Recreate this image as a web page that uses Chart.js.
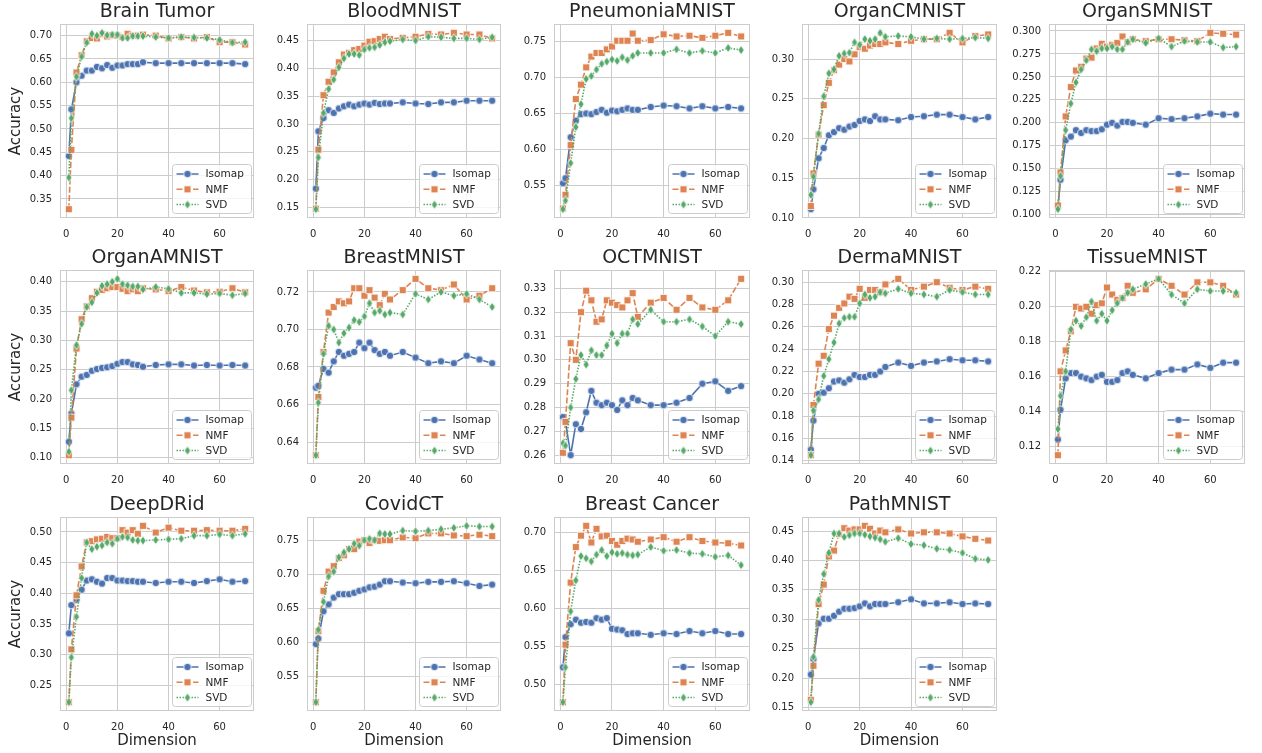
<!DOCTYPE html>
<html>
<head>
<meta charset="utf-8">
<script src="https://cdn.jsdelivr.net/npm/chart.js@4.4.0/dist/chart.umd.min.js"></script>
<style>
  body { margin: 0; background: #fff; }
  #wrap { position: relative; width: 1262px; height: 753px; overflow: hidden; background: #fff; }
  #wrap canvas { position: absolute; }
</style>
</head>
<body>
<div id="wrap"></div>
<script>
// dimensions tested (x values)
const dims = [1, 2, 4, 6, 8, 10, 12, 14, 16, 18, 20, 22, 24, 26, 28, 30, 35, 40, 45, 50, 55, 60, 65, 70];
const xTicks = [0, 20, 40, 60];

const titles = ['Brain Tumor', 'BloodMNIST', 'PneumoniaMNIST', 'OrganCMNIST', 'OrganSMNIST',
                'OrganAMNIST', 'BreastMNIST', 'OCTMNIST', 'DermaMNIST', 'TissueMNIST',
                'DeepDRid', 'CovidCT', 'Breast Cancer', 'PathMNIST'];
const methods = ['Isomap', 'NMF', 'SVD'];

// y tick step and decimals per panel
const yStep = [0.05, 0.05, 0.05, 0.05, 0.025, 0.05, 0.02, 0.01, 0.02, 0.02, 0.05, 0.05, 0.05, 0.05];
const yDecimals = [2, 2, 2, 2, 3, 2, 2, 2, 2, 2, 2, 2, 2, 2];

// accuracy per panel (same order as titles)
const isomapAcc = [
  [0.442,0.542,0.600,0.614,0.625,0.625,0.633,0.630,0.637,0.631,0.636,0.636,0.639,0.639,0.639,0.643,0.641,0.641,0.641,0.641,0.641,0.641,0.641,0.639],
  [0.184,0.287,0.311,0.325,0.320,0.328,0.332,0.335,0.332,0.335,0.337,0.335,0.338,0.336,0.337,0.337,0.339,0.337,0.336,0.339,0.339,0.342,0.342,0.342],
  [0.553,0.560,0.617,0.640,0.649,0.650,0.649,0.652,0.655,0.651,0.654,0.653,0.655,0.657,0.655,0.655,0.659,0.661,0.660,0.657,0.660,0.657,0.659,0.657],
  [0.111,0.136,0.175,0.188,0.204,0.208,0.213,0.211,0.215,0.217,0.222,0.224,0.222,0.228,0.224,0.224,0.223,0.227,0.228,0.230,0.230,0.227,0.224,0.227],
  [0.108,0.138,0.181,0.185,0.192,0.189,0.192,0.191,0.191,0.193,0.198,0.200,0.197,0.201,0.201,0.200,0.198,0.205,0.204,0.205,0.207,0.210,0.209,0.209],
  [0.127,0.175,0.225,0.238,0.241,0.248,0.251,0.253,0.254,0.256,0.260,0.263,0.263,0.259,0.258,0.255,0.258,0.259,0.259,0.257,0.258,0.257,0.258,0.257],
  [0.669,0.670,0.679,0.677,0.683,0.688,0.686,0.687,0.688,0.693,0.690,0.693,0.689,0.687,0.688,0.686,0.688,0.685,0.682,0.683,0.682,0.686,0.684,0.682],
  [0.276,0.274,0.260,0.273,0.271,0.278,0.287,0.282,0.281,0.282,0.281,0.279,0.283,0.281,0.284,0.283,0.281,0.281,0.282,0.284,0.290,0.291,0.287,0.289],
  [0.150,0.176,0.200,0.201,0.205,0.211,0.212,0.210,0.213,0.217,0.215,0.215,0.217,0.217,0.220,0.224,0.228,0.225,0.228,0.229,0.231,0.230,0.230,0.229],
  [0.124,0.141,0.159,0.162,0.162,0.160,0.159,0.158,0.160,0.161,0.157,0.157,0.158,0.162,0.163,0.161,0.159,0.162,0.164,0.164,0.167,0.165,0.168,0.168],
  [0.335,0.381,0.390,0.406,0.421,0.423,0.419,0.416,0.425,0.425,0.421,0.421,0.420,0.420,0.419,0.419,0.417,0.419,0.419,0.417,0.420,0.423,0.419,0.420],
  [0.598,0.606,0.646,0.656,0.666,0.671,0.671,0.671,0.673,0.676,0.678,0.681,0.682,0.685,0.690,0.690,0.688,0.687,0.689,0.689,0.690,0.687,0.683,0.685],
  [0.522,0.562,0.579,0.585,0.581,0.582,0.581,0.587,0.585,0.587,0.573,0.572,0.571,0.566,0.567,0.567,0.565,0.567,0.566,0.570,0.567,0.570,0.566,0.566],
  [0.206,0.232,0.293,0.301,0.301,0.306,0.313,0.318,0.318,0.319,0.322,0.327,0.322,0.326,0.326,0.326,0.329,0.334,0.327,0.327,0.329,0.326,0.327,0.326]
];
const nmfAcc = [
  [0.328,0.455,0.621,0.658,0.688,0.695,0.694,0.703,0.698,0.701,0.700,0.697,0.704,0.700,0.700,0.702,0.700,0.694,0.697,0.694,0.697,0.686,0.686,0.681],
  [0.148,0.254,0.352,0.376,0.393,0.411,0.425,0.428,0.433,0.435,0.441,0.448,0.449,0.453,0.457,0.453,0.455,0.457,0.462,0.461,0.464,0.461,0.461,0.454],
  [0.518,0.537,0.606,0.670,0.690,0.714,0.729,0.734,0.734,0.739,0.743,0.751,0.751,0.751,0.761,0.751,0.752,0.760,0.757,0.758,0.755,0.758,0.762,0.757],
  [0.115,0.156,0.205,0.242,0.270,0.286,0.293,0.300,0.297,0.306,0.315,0.313,0.317,0.319,0.319,0.321,0.319,0.323,0.325,0.325,0.333,0.321,0.329,0.331],
  [0.110,0.146,0.207,0.239,0.257,0.261,0.270,0.271,0.281,0.286,0.283,0.285,0.287,0.294,0.288,0.291,0.289,0.291,0.291,0.290,0.289,0.298,0.297,0.296],
  [0.104,0.168,0.286,0.336,0.358,0.372,0.383,0.386,0.389,0.391,0.391,0.388,0.384,0.387,0.384,0.389,0.387,0.384,0.391,0.385,0.382,0.383,0.389,0.382],
  [0.633,0.664,0.688,0.709,0.712,0.715,0.714,0.715,0.722,0.722,0.718,0.721,0.717,0.713,0.719,0.716,0.721,0.727,0.722,0.721,0.724,0.716,0.718,0.722],
  [0.261,0.274,0.307,0.300,0.320,0.329,0.325,0.316,0.317,0.325,0.324,0.323,0.322,0.325,0.328,0.318,0.324,0.326,0.321,0.326,0.322,0.321,0.325,0.334],
  [0.145,0.190,0.227,0.234,0.258,0.270,0.277,0.281,0.287,0.285,0.294,0.286,0.293,0.293,0.291,0.298,0.303,0.293,0.296,0.300,0.295,0.293,0.296,0.294],
  [0.115,0.163,0.175,0.186,0.200,0.199,0.200,0.196,0.201,0.202,0.211,0.207,0.204,0.205,0.212,0.208,0.210,0.216,0.212,0.207,0.214,0.214,0.212,0.207],
  [0.223,0.309,0.397,0.444,0.483,0.485,0.488,0.489,0.492,0.490,0.490,0.503,0.499,0.503,0.497,0.510,0.499,0.507,0.502,0.502,0.503,0.502,0.502,0.505],
  [0.513,0.617,0.676,0.704,0.712,0.724,0.728,0.737,0.737,0.748,0.750,0.746,0.750,0.749,0.750,0.750,0.754,0.753,0.760,0.760,0.757,0.756,0.758,0.756],
  [0.476,0.552,0.634,0.681,0.696,0.709,0.687,0.705,0.695,0.696,0.689,0.684,0.689,0.692,0.691,0.688,0.691,0.694,0.688,0.694,0.689,0.687,0.686,0.683],
  [0.163,0.221,0.326,0.359,0.407,0.417,0.445,0.455,0.451,0.453,0.453,0.459,0.454,0.446,0.451,0.448,0.453,0.446,0.448,0.448,0.446,0.441,0.437,0.434]
];
const svdAcc = [
  [0.396,0.523,0.612,0.655,0.685,0.704,0.700,0.706,0.701,0.702,0.702,0.695,0.695,0.699,0.699,0.699,0.697,0.695,0.697,0.696,0.695,0.691,0.685,0.686],
  [0.147,0.240,0.320,0.363,0.380,0.402,0.418,0.426,0.426,0.424,0.434,0.437,0.438,0.442,0.447,0.449,0.452,0.450,0.457,0.456,0.454,0.454,0.452,0.456],
  [0.517,0.529,0.581,0.631,0.663,0.698,0.702,0.711,0.719,0.722,0.725,0.723,0.728,0.724,0.730,0.734,0.734,0.734,0.739,0.734,0.737,0.734,0.741,0.738],
  [0.129,0.152,0.206,0.253,0.282,0.287,0.304,0.307,0.308,0.321,0.318,0.325,0.323,0.325,0.333,0.328,0.329,0.328,0.325,0.326,0.325,0.326,0.327,0.326],
  [0.106,0.142,0.192,0.221,0.244,0.258,0.268,0.280,0.278,0.281,0.281,0.283,0.280,0.280,0.288,0.291,0.287,0.292,0.283,0.289,0.288,0.288,0.282,0.283],
  [0.110,0.215,0.292,0.328,0.357,0.365,0.381,0.393,0.396,0.400,0.405,0.396,0.394,0.392,0.392,0.387,0.391,0.388,0.381,0.381,0.379,0.380,0.377,0.380],
  [0.633,0.661,0.687,0.702,0.700,0.693,0.698,0.701,0.705,0.704,0.707,0.714,0.709,0.710,0.708,0.709,0.708,0.719,0.716,0.720,0.718,0.719,0.716,0.712],
  [0.265,0.264,0.280,0.292,0.302,0.298,0.304,0.302,0.302,0.306,0.311,0.307,0.311,0.311,0.317,0.315,0.321,0.316,0.316,0.317,0.314,0.310,0.316,0.315],
  [0.145,0.185,0.195,0.216,0.231,0.246,0.263,0.268,0.269,0.269,0.281,0.289,0.286,0.287,0.291,0.290,0.294,0.290,0.289,0.287,0.293,0.291,0.289,0.289],
  [0.130,0.149,0.163,0.187,0.192,0.189,0.194,0.203,0.192,0.196,0.192,0.198,0.202,0.205,0.208,0.210,0.213,0.216,0.207,0.202,0.210,0.209,0.209,0.208],
  [0.223,0.296,0.362,0.425,0.483,0.472,0.476,0.478,0.483,0.481,0.489,0.492,0.491,0.487,0.486,0.486,0.487,0.488,0.489,0.494,0.494,0.496,0.494,0.497],
  [0.513,0.619,0.660,0.697,0.704,0.725,0.732,0.737,0.745,0.742,0.750,0.752,0.750,0.760,0.759,0.759,0.764,0.763,0.764,0.766,0.768,0.771,0.770,0.770],
  [0.476,0.522,0.596,0.637,0.669,0.666,0.662,0.671,0.677,0.669,0.674,0.672,0.673,0.671,0.670,0.671,0.681,0.676,0.677,0.673,0.672,0.668,0.670,0.657],
  [0.159,0.236,0.333,0.377,0.413,0.446,0.446,0.440,0.443,0.446,0.446,0.444,0.441,0.439,0.436,0.432,0.438,0.428,0.426,0.420,0.418,0.413,0.403,0.401]
];

const colores = ['#4c72b0', '#dd8452', '#55a868'];
const dashes = [[], [6, 2.25], [1.5, 1.5]];

// posiciones de los paneles en la pagina
const colLeft = [60, 307, 554, 802, 1049];
const colWidth = [194, 194, 196, 195, 196];
const rowTop = [24, 270, 517];
const plotH = 194;
const yAxisW = 58, titleH = 24, xAxisH = 40, padRight = 10;

Chart.defaults.font.family = '"DejaVu Sans", sans-serif';
Chart.defaults.color = '#262626';

function crearMarcador(forma, color) {
  const c = document.createElement('canvas');
  c.width = 12; c.height = 12;
  const g = c.getContext('2d');
  g.fillStyle = color;
  g.strokeStyle = '#ffffff';
  g.lineWidth = 0.8;
  g.beginPath();
  if (forma === 'circle') {
    g.arc(6, 6, 3.7, 0, Math.PI * 2);
  } else if (forma === 'square') {
    g.rect(2.5, 2.5, 7, 7);
  } else {
    g.moveTo(6, 1.4); g.lineTo(9.1, 6); g.lineTo(6, 10.6); g.lineTo(2.9, 6); g.closePath();
  }
  g.fill();
  g.stroke();
  return c;
}
const marcadores = [
  crearMarcador('circle', colores[0]),
  crearMarcador('square', colores[1]),
  crearMarcador('diamond', colores[2])
];

// marco del area de grafico
const marcoPlugin = {
  id: 'marco',
  afterDatasetsDraw(chart) {
    const a = chart.chartArea;
    const ctx = chart.ctx;
    ctx.save();
    ctx.strokeStyle = '#cccccc';
    ctx.lineWidth = 1;
    ctx.strokeRect(Math.round(a.left) + 0.5, Math.round(a.top) + 0.5,
      Math.round(a.right - a.left) - 1, Math.round(a.bottom - a.top) - 1);
    ctx.restore();
  }
};

// leyenda dentro del grafico, abajo a la derecha
const leyendaPlugin = {
  id: 'leyenda',
  afterDatasetsDraw(chart) {
    const ctx = chart.ctx, a = chart.chartArea;
    const w = 79, h = 49;
    const x = Math.round(a.right - 3 - w) + 0.5, y = Math.round(a.bottom - 5 - h) + 0.5;
    ctx.save();
    ctx.beginPath();
    ctx.roundRect(x, y, w, h, 3);
    ctx.fillStyle = 'rgba(255,255,255,0.8)';
    ctx.fill();
    ctx.strokeStyle = '#cccccc';
    ctx.lineWidth = 1;
    ctx.stroke();
    chart.data.datasets.forEach((ds, k) => {
      const cy = y + 9.5 + k * 15.3;
      ctx.strokeStyle = ds.borderColor;
      ctx.lineWidth = 1.5;
      ctx.setLineDash(ds.borderDash);
      ctx.beginPath();
      ctx.moveTo(x + 4, cy);
      ctx.lineTo(x + 26, cy);
      ctx.stroke();
      ctx.setLineDash([]);
      const m = ds.pointStyle;
      ctx.drawImage(m, x + 15 - m.width / 2, cy - m.height / 2);
      ctx.fillStyle = '#262626';
      ctx.font = '10.5px "DejaVu Sans", sans-serif';
      ctx.textBaseline = 'middle';
      ctx.textAlign = 'left';
      ctx.fillText(ds.label, x + 33, cy + 0.5);
    });
    ctx.restore();
  }
};

const wrap = document.getElementById('wrap');
const xMin = dims[0] - 0.05 * (dims[dims.length - 1] - dims[0]);
const xMax = dims[dims.length - 1] + 0.05 * (dims[dims.length - 1] - dims[0]);

titles.forEach((titulo, i) => {
  const row = Math.floor(i / 5), col = i % 5;
  const series = [isomapAcc[i], nmfAcc[i], svdAcc[i]];
  const todos = series.flat();
  const lo = Math.min(...todos), hi = Math.max(...todos);
  const yMin = lo - 0.05 * (hi - lo), yMax = hi + 0.05 * (hi - lo);
  const paso = yStep[i];

  const canvas = document.createElement('canvas');
  const cw = yAxisW + colWidth[col] + padRight;
  const ch = titleH + plotH + xAxisH;
  canvas.width = cw; canvas.height = ch;
  canvas.style.width = cw + 'px'; canvas.style.height = ch + 'px';
  canvas.style.left = (colLeft[col] - yAxisW) + 'px';
  canvas.style.top = (rowTop[row] - titleH) + 'px';
  wrap.appendChild(canvas);

  new Chart(canvas.getContext('2d'), {
    type: 'line',
    data: {
      datasets: series.map((vals, k) => ({
        label: methods[k],
        data: dims.map((d, j) => ({ x: d, y: vals[j] })),
        borderColor: colores[k],
        backgroundColor: colores[k],
        borderWidth: 1.6,
        borderDash: dashes[k],
        pointStyle: marcadores[k],
        pointRadius: 4,
        pointHoverRadius: 4,
        fill: false,
        tension: 0,
        order: 3 - k
      }))
    },
    options: {
      responsive: false,
      animation: false,
      devicePixelRatio: 1,
      layout: { padding: { left: 0, right: padRight, top: 0, bottom: 0 } },
      plugins: {
        legend: { display: false },
        tooltip: { enabled: false },
        title: {
          display: true,
          fullSize: false,
          text: titulo,
          color: '#262626',
          font: { size: 19, lineHeight: 24 / 19, weight: 'normal' },
          padding: { top: 0, bottom: 0 }
        }
      },
      scales: {
        x: {
          type: 'linear',
          min: xMin,
          max: xMax,
          afterBuildTicks: (s) => { s.ticks = xTicks.map(v => ({ value: v })); },
          afterFit: (s) => { s.height = xAxisH; },
          grid: { color: '#cccccc', lineWidth: 1, drawTicks: false },
          border: { display: false },
          ticks: { font: { size: 10 }, color: '#262626', padding: 10, maxRotation: 0,
                   callback: (v) => String(v) },
          title: { display: row === 2, text: 'Dimension', color: '#262626',
                   font: { size: 15 }, padding: { top: 0, bottom: 1 } }
        },
        y: {
          type: 'linear',
          min: yMin,
          max: yMax,
          afterBuildTicks: (s) => {
            const t = [];
            for (let v = Math.ceil(yMin / paso - 1e-9) * paso; v <= yMax + 1e-9; v += paso) {
              t.push({ value: v });
            }
            s.ticks = t;
          },
          afterFit: (s) => { s.width = yAxisW; },
          grid: { color: '#cccccc', lineWidth: 1, drawTicks: false },
          border: { display: false },
          ticks: { font: { size: 10 }, color: '#262626', padding: 8, autoSkip: false,
                   callback: (v) => Number(v).toFixed(yDecimals[i]) },
          title: { display: col === 0, text: 'Accuracy', color: '#262626',
                   font: { size: 15 }, padding: { top: 5, bottom: 0 } }
        }
      }
    },
    plugins: [marcoPlugin, leyendaPlugin]
  });
});
</script>
</body>
</html>
